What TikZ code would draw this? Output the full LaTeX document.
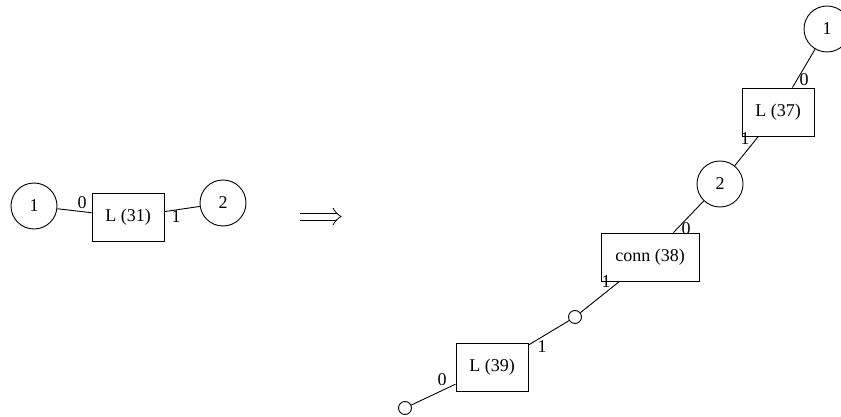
\documentclass[tikz,border=0pt]{standalone}
\usepackage{fontspec}
\setmainfont{Liberation Serif}
\usetikzlibrary{positioning,arrows.meta}

\begin{document}
\begin{tikzpicture}[x=1pt,y=-1pt,line width=0.9pt,
		every node/.style={font=\fontsize{18}{21}\selectfont},
		vert/.style={circle,draw,minimum size=46pt,inner sep=0pt},
		open/.style={circle,draw,minimum size=13pt,inner sep=0pt},
		op/.style={rectangle,draw,minimum height=48pt,minimum width=72pt,inner sep=2pt},
		lbl/.style={inner sep=0pt},
	]
	\useasboundingbox (0,0) rectangle (841,417);
	% before
	\node[vert] (a1) at (34,206) {1};
	\node[op] (l31) at (128,217) {L (31)};
	\node[vert] (a2) at (223,203) {2};
	\node[lbl] at (82,203) {0};
	\node[lbl] at (176,217) {1};
	\draw (a1) -- (l31);
	\draw (l31) -- (a2);
	% implies
	\coordinate (s1) at (300,213);
	\coordinate (t1) at (337,213);
	\coordinate (s2) at (300,220);
	\coordinate (t2) at (337,220);
	\coordinate (h1) at (333,208);
	\coordinate (tip) at (341,216.5);
	\coordinate (h2) at (333,225);
	\draw[line width=0.8pt] (s1) -- (t1);
	\draw[line width=0.8pt] (s2) -- (t2);
	\draw[line width=0.8pt] (h1) .. controls (336,213) .. (tip) .. controls (336,220) .. (h2);
	% after
	\node[vert] (b1) at (827,29) {1};
	\node[op] (l37) at (778,112) {L (37)};
	\node[vert] (b2) at (720,184) {2};
	\node[op,minimum width=98pt] (c38) at (650,257) {conn (38)};
	\node[open] (u1) at (575,317) {};
	\node[op] (l39) at (492,367) {L (39)};
	\node[open] (u2) at (405,408) {};
	\node[lbl] at (804,80) {0};
	\node[lbl] at (745,139) {1};
	\node[lbl] at (686,229) {0};
	\node[lbl] at (606,282) {1};
	\node[lbl] at (542,347) {1};
	\node[lbl] at (442,380) {0};
	\draw (b1) -- (l37);
	\draw (l37) -- (b2);
	\draw (b2) -- (c38);
	\draw (c38) -- (u1);
	\draw (u1) -- (l39);
	\draw (l39) -- (u2);
\end{tikzpicture}
\end{document}
